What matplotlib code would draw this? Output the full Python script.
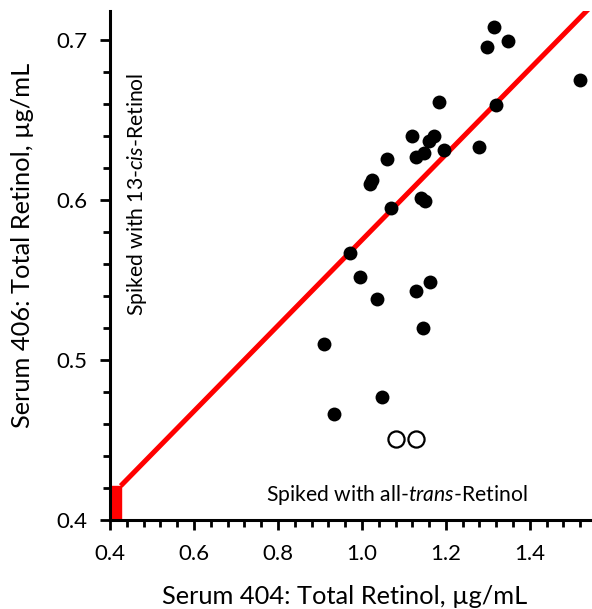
import matplotlib
matplotlib.use("Agg")
import matplotlib.pyplot as plt
from matplotlib.patches import Rectangle
from matplotlib.ticker import MultipleLocator
import numpy as np

plt.rcParams['font.family'] = ['Lato', 'DejaVu Sans']
plt.rcParams['mathtext.fontset'] = 'custom'
plt.rcParams['mathtext.rm'] = 'Lato'
plt.rcParams['mathtext.it'] = 'Lato:italic'

# Filled points: Serum 404 vs Serum 406 total retinol
serum404 = [1.315, 1.349, 1.297, 1.520, 1.184, 1.319, 1.120, 1.171, 1.160, 1.279,
            1.195, 1.149, 1.130, 1.059, 1.025, 1.019, 1.140, 1.150, 1.070, 0.972,
            0.996, 1.036, 1.129, 1.162, 1.146, 0.909, 1.049, 0.933]
serum406 = [0.708, 0.6996, 0.6956, 0.675, 0.661, 0.6596, 0.640, 0.640, 0.637, 0.633,
            0.631, 0.6296, 0.627, 0.6258, 0.6125, 0.6098, 0.601, 0.5996, 0.5948, 0.567,
            0.552, 0.538, 0.543, 0.549, 0.520, 0.510, 0.477, 0.466]
# Open points
open404 = [1.080, 1.129]
open406 = [0.4506, 0.4506]

# Red fit line
slope = 0.2675
intercept = 0.3075
line_x = [0.4255, 1.60]
box_x0, box_y0, box_w, box_h = 0.4, 0.4, 0.0255, 0.0213

xlim = (0.4, 1.548)
ylim = (0.4, 0.7183)
xticks = [0.4, 0.6, 0.8, 1.0, 1.2, 1.4]
yticks = [0.4, 0.5, 0.6, 0.7]

W, H = 592, 609
fig = plt.figure(figsize=(W / 100, H / 100), dpi=100)
ax = fig.add_axes([110 / W, (H - 520) / H, (592 - 110) / W, (520 - 10.7) / H])

ax.add_patch(Rectangle((box_x0, box_y0), box_w, box_h, color='#ff0000', zorder=2, clip_on=False))
lx = np.array(line_x)
ax.plot(lx, slope * lx + intercept, color='#ff0000', lw=3.6, zorder=2, solid_capstyle='butt')

ax.scatter(serum404, serum406, s=100, color='black', zorder=3, linewidths=0)
ax.scatter(open404, open406, s=135, facecolors='white', edgecolors='black', linewidths=1.6, zorder=3)

ax.set_xlim(*xlim)
ax.set_ylim(*ylim)
ax.set_xticks(xticks)
ax.set_yticks(yticks)
ax.set_xticklabels([f"{v:.1f}" for v in xticks])
ax.set_yticklabels([f"{v:.1f}" for v in yticks])
ax.xaxis.set_minor_locator(MultipleLocator(0.04))
ax.yaxis.set_minor_locator(MultipleLocator(0.02))

for s in ['top', 'right']:
    ax.spines[s].set_visible(False)
for s in ['left', 'bottom']:
    ax.spines[s].set_linewidth(2.2)
ax.tick_params(axis='both', which='major', length=7, width=2, labelsize=16, direction='out')
ax.tick_params(axis='both', which='minor', length=5, width=2, direction='out')
ax.tick_params(axis='y', which='major', pad=9)
ax.tick_params(axis='x', which='major', pad=10)

fig.text(345 / W, 1 - 597 / H, 'Serum 404: Total Retinol, µg/mL', ha='center', va='center', fontsize=18.3)
fig.text(23 / W, 1 - 245 / H, 'Serum 406: Total Retinol, µg/mL', ha='center', va='center',
         fontsize=18.3, rotation=90)

fig.text(137 / W, 1 - 194 / H, 'Spiked with 13-$\\it{cis}$-Retinol', ha='center', va='center',
         fontsize=15.2, rotation=90)
fig.text(397 / W, 1 - 495 / H, 'Spiked with all-$\\it{trans}$-Retinol', ha='center', va='center',
         fontsize=15.2)

fig.savefig('out.png', dpi=100)
